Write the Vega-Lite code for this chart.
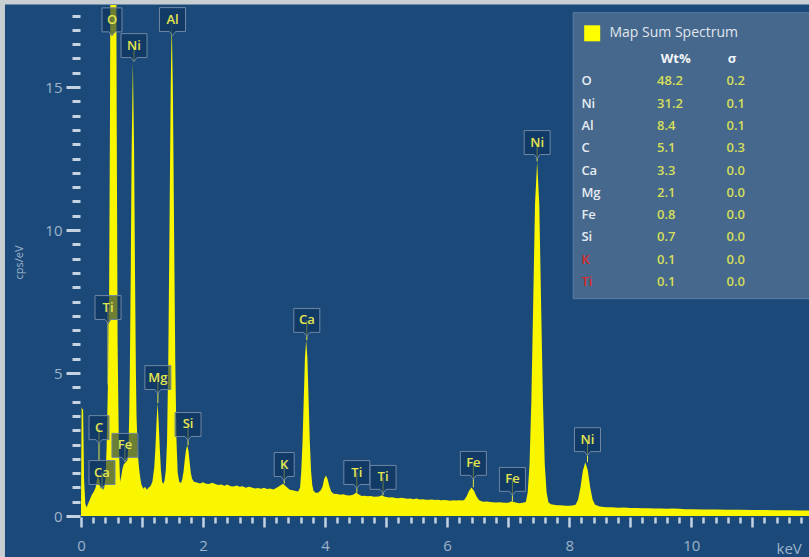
{
  "$schema": "https://vega.github.io/schema/vega-lite/v6.json",
  "width": 728,
  "height": 511,
  "autosize": {"type": "none"},
  "padding": {"left": 81, "top": 5, "right": 0, "bottom": 41},
  "background": "#c9ced3",
  "config": {"view": {"stroke": null}, "font": "Open Sans"},
  "datasets": {
    "spectrum": [
      {"e":0.00,"c":0.15},{"e":0.01,"c":3.8},{"e":0.035,"c":3.7},{"e":0.05,"c":1.3},{"e":0.07,"c":0.45},{"e":0.09,"c":0.3},{"e":0.12,"c":0.45},{"e":0.15,"c":0.6},{"e":0.18,"c":0.75},{"e":0.21,"c":0.85},{"e":0.24,"c":1.0},{"e":0.26,"c":1.25},{"e":0.28,"c":1.4},{"e":0.30,"c":1.25},{"e":0.32,"c":0.95},{"e":0.34,"c":1.1},{"e":0.36,"c":0.9},{"e":0.38,"c":1.0},{"e":0.40,"c":1.3},{"e":0.42,"c":2.4},{"e":0.44,"c":4.5},{"e":0.46,"c":7.5},{"e":0.475,"c":14},{"e":0.485,"c":22},{"e":0.50,"c":40},{"e":0.53,"c":60},{"e":0.56,"c":40},{"e":0.575,"c":22},{"e":0.585,"c":14},{"e":0.60,"c":6},{"e":0.62,"c":2.5},{"e":0.64,"c":1.2},{"e":0.66,"c":1.4},{"e":0.68,"c":1.65},{"e":0.70,"c":1.8},{"e":0.72,"c":1.85},{"e":0.74,"c":1.9},{"e":0.76,"c":1.95},{"e":0.78,"c":2.6},{"e":0.79,"c":3.5},{"e":0.80,"c":5.0},{"e":0.815,"c":8.5},{"e":0.83,"c":12.8},{"e":0.85,"c":15.9},{"e":0.87,"c":12.8},{"e":0.885,"c":8.5},{"e":0.90,"c":5.0},{"e":0.91,"c":3.5},{"e":0.93,"c":2.2},{"e":0.95,"c":1.7},{"e":0.97,"c":1.35},{"e":0.99,"c":1.1},{"e":1.02,"c":0.95},{"e":1.05,"c":1.02},{"e":1.08,"c":0.92},{"e":1.11,"c":1.0},{"e":1.14,"c":1.05},{"e":1.17,"c":1.2},{"e":1.20,"c":1.7},{"e":1.22,"c":2.4},{"e":1.24,"c":3.4},{"e":1.254,"c":3.95},{"e":1.27,"c":3.4},{"e":1.29,"c":2.4},{"e":1.31,"c":1.6},{"e":1.33,"c":1.2},{"e":1.35,"c":1.12},{"e":1.37,"c":1.25},{"e":1.39,"c":1.6},{"e":1.41,"c":2.6},{"e":1.43,"c":5.4},{"e":1.45,"c":10.1},{"e":1.47,"c":15.0},{"e":1.487,"c":17.3},{"e":1.505,"c":15.0},{"e":1.525,"c":10.1},{"e":1.545,"c":5.4},{"e":1.565,"c":2.6},{"e":1.585,"c":1.5},{"e":1.61,"c":1.2},{"e":1.64,"c":1.15},{"e":1.66,"c":1.3},{"e":1.68,"c":1.55},{"e":1.70,"c":1.95},{"e":1.72,"c":2.3},{"e":1.74,"c":2.47},{"e":1.76,"c":2.3},{"e":1.78,"c":1.9},{"e":1.80,"c":1.5},{"e":1.82,"c":1.3},{"e":1.85,"c":1.2},{"e":1.90,"c":1.17},{"e":1.95,"c":1.14},{"e":2.0,"c":1.18},{"e":2.05,"c":1.13},{"e":2.1,"c":1.12},{"e":2.15,"c":1.16},{"e":2.2,"c":1.12},{"e":2.25,"c":1.08},{"e":2.3,"c":1.1},{"e":2.35,"c":1.06},{"e":2.4,"c":1.1},{"e":2.45,"c":1.04},{"e":2.5,"c":1.03},{"e":2.55,"c":1.07},{"e":2.6,"c":1.02},{"e":2.65,"c":1.04},{"e":2.7,"c":0.99},{"e":2.75,"c":1.02},{"e":2.8,"c":1.0},{"e":2.85,"c":0.96},{"e":2.9,"c":0.98},{"e":2.95,"c":0.95},{"e":3.0,"c":0.99},{"e":3.05,"c":0.94},{"e":3.1,"c":0.96},{"e":3.15,"c":0.93},{"e":3.2,"c":0.98},{"e":3.26,"c":1.06},{"e":3.31,"c":1.13},{"e":3.36,"c":1.03},{"e":3.42,"c":0.92},{"e":3.47,"c":0.9},{"e":3.52,"c":0.87},{"e":3.56,"c":0.86},{"e":3.59,"c":1.0},{"e":3.61,"c":1.57},{"e":3.63,"c":2.57},{"e":3.65,"c":4.06},{"e":3.67,"c":5.53},{"e":3.69,"c":6.15},{"e":3.71,"c":5.53},{"e":3.73,"c":4.06},{"e":3.75,"c":2.57},{"e":3.77,"c":1.57},{"e":3.79,"c":1.08},{"e":3.81,"c":0.88},{"e":3.85,"c":0.8},{"e":3.89,"c":0.82},{"e":3.93,"c":0.9},{"e":3.96,"c":1.04},{"e":3.985,"c":1.29},{"e":4.013,"c":1.42},{"e":4.04,"c":1.29},{"e":4.07,"c":1.04},{"e":4.10,"c":0.86},{"e":4.14,"c":0.78},{"e":4.2,"c":0.77},{"e":4.25,"c":0.74},{"e":4.3,"c":0.76},{"e":4.35,"c":0.73},{"e":4.4,"c":0.72},{"e":4.46,"c":0.74},{"e":4.51,"c":0.82},{"e":4.56,"c":0.74},{"e":4.6,"c":0.7},{"e":4.65,"c":0.71},{"e":4.7,"c":0.69},{"e":4.75,"c":0.7},{"e":4.8,"c":0.67},{"e":4.88,"c":0.68},{"e":4.93,"c":0.73},{"e":4.98,"c":0.67},{"e":5.05,"c":0.65},{"e":5.1,"c":0.66},{"e":5.15,"c":0.63},{"e":5.2,"c":0.62},{"e":5.25,"c":0.64},{"e":5.3,"c":0.62},{"e":5.35,"c":0.6},{"e":5.4,"c":0.61},{"e":5.45,"c":0.59},{"e":5.5,"c":0.61},{"e":5.55,"c":0.58},{"e":5.6,"c":0.59},{"e":5.65,"c":0.57},{"e":5.7,"c":0.57},{"e":5.75,"c":0.58},{"e":5.8,"c":0.56},{"e":5.85,"c":0.57},{"e":5.9,"c":0.55},{"e":5.95,"c":0.56},{"e":6.0,"c":0.55},{"e":6.05,"c":0.53},{"e":6.1,"c":0.55},{"e":6.15,"c":0.54},{"e":6.2,"c":0.55},{"e":6.25,"c":0.54},{"e":6.28,"c":0.56},{"e":6.32,"c":0.69},{"e":6.36,"c":0.88},{"e":6.40,"c":1.0},{"e":6.44,"c":0.88},{"e":6.48,"c":0.69},{"e":6.52,"c":0.56},{"e":6.56,"c":0.52},{"e":6.6,"c":0.5},{"e":6.65,"c":0.51},{"e":6.7,"c":0.49},{"e":6.75,"c":0.48},{"e":6.8,"c":0.47},{"e":6.85,"c":0.48},{"e":6.9,"c":0.47},{"e":6.95,"c":0.46},{"e":7.0,"c":0.46},{"e":7.06,"c":0.52},{"e":7.12,"c":0.47},{"e":7.18,"c":0.45},{"e":7.24,"c":0.46},{"e":7.29,"c":0.49},{"e":7.32,"c":0.82},{"e":7.35,"c":1.8},{"e":7.38,"c":4.0},{"e":7.41,"c":7.4},{"e":7.44,"c":10.9},{"e":7.475,"c":12.4},{"e":7.51,"c":10.9},{"e":7.54,"c":7.4},{"e":7.57,"c":4.0},{"e":7.60,"c":1.8},{"e":7.63,"c":0.82},{"e":7.66,"c":0.48},{"e":7.7,"c":0.41},{"e":7.75,"c":0.39},{"e":7.8,"c":0.38},{"e":7.85,"c":0.38},{"e":7.9,"c":0.37},{"e":7.95,"c":0.36},{"e":8.0,"c":0.36},{"e":8.05,"c":0.37},{"e":8.105,"c":0.39},{"e":8.145,"c":0.57},{"e":8.185,"c":1.0},{"e":8.225,"c":1.59},{"e":8.265,"c":1.88},{"e":8.305,"c":1.59},{"e":8.345,"c":1.0},{"e":8.385,"c":0.57},{"e":8.425,"c":0.39},{"e":8.5,"c":0.33},{"e":8.6,"c":0.31},{"e":8.7,"c":0.31},{"e":8.8,"c":0.29},{"e":8.9,"c":0.3},{"e":9.0,"c":0.28},{"e":9.1,"c":0.28},{"e":9.2,"c":0.27},{"e":9.3,"c":0.27},{"e":9.4,"c":0.26},{"e":9.5,"c":0.26},{"e":9.6,"c":0.25},{"e":9.7,"c":0.26},{"e":9.8,"c":0.25},{"e":9.9,"c":0.24},{"e":10.0,"c":0.24},{"e":10.2,"c":0.23},{"e":10.4,"c":0.23},{"e":10.6,"c":0.22},{"e":10.8,"c":0.22},{"e":11.0,"c":0.21},{"e":11.2,"c":0.21},{"e":11.4,"c":0.2},{"e":11.6,"c":0.2},{"e":11.8,"c":0.19},{"e":12.0,"c":0.19}
    ],
    "peaks": [
      {"el":"O","e":0.508,"ly":17.35,"tip":17.35},
      {"el":"Ni","e":0.869,"ly":16.45,"tip":15.9},
      {"el":"Al","e":1.5,"ly":17.36,"tip":17.3},
      {"el":"Ti","e":0.443,"ly":7.29,"tip":4.6},
      {"el":"Mg","e":1.26,"ly":4.84,"tip":3.95},
      {"el":"Si","e":1.754,"ly":3.2,"tip":2.47},
      {"el":"C","e":0.295,"ly":3.09,"tip":1.94},
      {"el":"Ca","e":0.344,"ly":1.52,"tip":1.05},
      {"el":"Fe","e":0.72,"ly":2.47,"tip":1.9},
      {"el":"K","e":3.33,"ly":1.8,"tip":1.13},
      {"el":"Ca","e":3.70,"ly":6.84,"tip":6.15},
      {"el":"Ti","e":4.52,"ly":1.52,"tip":0.82},
      {"el":"Ti","e":4.95,"ly":1.35,"tip":0.73},
      {"el":"Fe","e":6.43,"ly":1.84,"tip":1.0},
      {"el":"Fe","e":7.07,"ly":1.28,"tip":0.52},
      {"el":"Ni","e":7.475,"ly":13.06,"tip":12.4},
      {"el":"Ni","e":8.30,"ly":2.67,"tip":1.88}
    ],
    "table": [
      {"el":"O","wt":"48.2","sigma":"0.2"},
      {"el":"Ni","wt":"31.2","sigma":"0.1"},
      {"el":"Al","wt":"8.4","sigma":"0.1"},
      {"el":"C","wt":"5.1","sigma":"0.3"},
      {"el":"Ca","wt":"3.3","sigma":"0.0"},
      {"el":"Mg","wt":"2.1","sigma":"0.0"},
      {"el":"Fe","wt":"0.8","sigma":"0.0"},
      {"el":"Si","wt":"0.7","sigma":"0.0"},
      {"el":"K","wt":"0.1","sigma":"0.0"},
      {"el":"Ti","wt":"0.1","sigma":"0.0"}
    ]
  },
  "layer": [
    {
      "data": {"name": "spectrum"},
      "layer": [
        {
          "data": {"values": [{}]},
          "mark": {"type": "rect", "fill": "#1b4a7a", "clip": false},
          "encoding": {
            "x": {"datum": -1.246, "type": "quantitative"},
            "x2": {"datum": 13},
            "y": {"datum": 17.885, "type": "quantitative"},
            "y2": {"datum": -2}
          }
        },
        {
          "mark": {"type": "area", "color": "#f9f600", "clip": true, "interpolate": "linear"},
          "encoding": {
            "x": {
              "field": "e", "type": "quantitative",
              "scale": {"domain": [0, 11.93], "nice": false, "zero": false},
              "axis": {
                "zindex": 1,
                "values": [0,0.2,0.4,0.6,0.8,1,1.2,1.4,1.6,1.8,2,2.2,2.4,2.6,2.8,3,3.2,3.4,3.6,3.8,4,4.2,4.4,4.6,4.8,5,5.2,5.4,5.6,5.8,6,6.2,6.4,6.6,6.8,7,7.2,7.4,7.6,7.8,8,8.2,8.4,8.6,8.8,9,9.2,9.4,9.6,9.8,10,10.2,10.4,10.6,10.8,11,11.2,11.4,11.6,11.8],
                "tickCount": 1000,
                "format": "~g",
                "labelExpr": "datum.value % 2 === 0 ? datum.label : ''",
                "tickSize": {"condition": {"test": "datum.value % 1 === 0", "value": 10}, "value": 6},
                "tickWidth": 2.5,
                "tickColor": "#c5d2e2",
                "domain": false,
                "grid": false,
                "offset": 1,
                "labelColor": "#9fb3cb",
                "labelFontSize": 15,
                "labelPadding": 11,
                "labelFlush": false,
                "labelOverlap": false,
                "title": "keV",
                "titleColor": "#9fb3cb",
                "titleFontSize": 15,
                "titleFontWeight": "normal",
                "titleAnchor": "start",
                "titleAlign": "left",
                "titleBaseline": "middle",
                "titleX": 695,
                "titleY": 31
              }
            },
            "y": {
              "field": "c", "type": "quantitative",
              "scale": {"domain": [0, 17.87], "nice": false, "zero": true},
              "axis": {
                "zindex": 1,
                "values": [0,0.5,1,1.5,2,2.5,3,3.5,4,4.5,5,5.5,6,6.5,7,7.5,8,8.5,9,9.5,10,10.5,11,11.5,12,12.5,13,13.5,14,14.5,15,15.5,16,16.5,17,17.5],
                "tickCount": 1000,
                "format": "~g",
                "labelExpr": "datum.value % 5 === 0 ? datum.label : ''",
                "tickSize": {"condition": {"test": "datum.value % 5 === 0", "value": 14}, "value": 8},
                "tickWidth": 3,
                "tickColor": "#c5d2e2",
                "domain": false,
                "grid": false,
                "offset": 1,
                "labelColor": "#9fb3cb",
                "labelFontSize": 15,
                "labelPadding": 4,
                "labelOverlap": false,
                "labelFlush": false,
                "title": "cps/eV",
                "titleColor": "#9fb3cb",
                "titleFontSize": 11,
                "titleFontWeight": "normal",
                "titleAngle": -90,
                "titleAlign": "center",
                "titleBaseline": "middle",
                "titleX": -61,
                "titleY": 257
              }
            }
          }
        },
        {
          "data": {"name": "peaks"},
          "mark": {"type": "rule", "color": "#e8e640", "strokeWidth": 1},
          "encoding": {
            "x": {"field": "e", "type": "quantitative"},
            "y": {"field": "ly", "type": "quantitative"},
            "y2": {"field": "tip"}
          }
        },
        {
          "data": {"name": "peaks"},
          "transform": [{"filter": "length(datum.el) == 1"}],
          "mark": {"type": "point", "shape": "M-1,-1.2H1V1.2H0.3L0,1.6L-0.3,1.2H-1Z", "size": 400, "filled": true, "fill": "#0e3158", "fillOpacity": 0.6, "stroke": "#6f87a3", "strokeWidth": 1, "opacity": 1},
          "encoding": {
            "x": {"field": "e", "type": "quantitative"},
            "y": {"field": "ly", "type": "quantitative"}
          }
        },
        {
          "data": {"name": "peaks"},
          "transform": [{"filter": "length(datum.el) == 2"}],
          "mark": {"type": "point", "shape": "M-1,-0.92H1V0.92H0.23L0,1.23L-0.23,0.92H-1Z", "size": 676, "filled": true, "fill": "#0e3158", "fillOpacity": 0.6, "stroke": "#6f87a3", "strokeWidth": 1, "opacity": 1},
          "encoding": {
            "x": {"field": "e", "type": "quantitative"},
            "y": {"field": "ly", "type": "quantitative"}
          }
        },
        {
          "data": {"name": "peaks"},
          "mark": {"type": "text", "color": "#e4e650", "font": "Open Sans", "fontSize": 13, "fontWeight": 600, "align": "center", "baseline": "middle"},
          "encoding": {
            "x": {"field": "e", "type": "quantitative"},
            "y": {"field": "ly", "type": "quantitative"},
            "text": {"field": "el"}
          }
        },
        {
          "data": {"values": [{}]},
          "mark": {"type": "rect", "fill": "#46688c", "stroke": "#5c7ea2", "strokeWidth": 1, "clip": false},
          "encoding": {
            "x": {"datum": 8.066, "type": "quantitative"},
            "x2": {"datum": 12.6},
            "y": {"datum": 17.6, "type": "quantitative"},
            "y2": {"datum": 7.6}
          }
        },
        {
          "data": {"values": [{}]},
          "mark": {"type": "point", "shape": "square", "size": 256, "filled": true, "fill": "#ffff00", "opacity": 1, "strokeWidth": 0},
          "encoding": {
            "x": {"datum": 8.377, "type": "quantitative"},
            "y": {"datum": 16.88, "type": "quantitative"}
          }
        },
        {
          "data": {"values": [{}]},
          "mark": {"type": "text", "text": "Map Sum Spectrum", "color": "#e0e6ee", "font": "Open Sans", "fontSize": 14, "align": "left", "baseline": "middle"},
          "encoding": {
            "x": {"datum": 8.66, "type": "quantitative"},
            "y": {"datum": 16.9, "type": "quantitative"}
          }
        }
      ]
    },
    {
      "data": {"name": "table"},
      "layer": [
        {
          "mark": {"type": "text", "font": "Open Sans", "fontSize": 13, "fontWeight": 600, "align": "left", "baseline": "middle"},
          "encoding": {
            "x": {"datum": 8.2, "type": "quantitative"},
            "y": {"field": "el", "type": "ordinal", "scale": {"type": "point", "domain": ["hdr","O","Ni","Al","C","Ca","Mg","Fe","Si","K","Ti"], "range": [54, 277], "padding": 0}, "axis": null},
            "text": {"field": "el"},
            "color": {"condition": {"test": "datum.el === 'K' || datum.el === 'Ti'", "value": "#d42a2a"}, "value": "#e6ecf3"}
          }
        },
        {
          "mark": {"type": "text", "font": "Open Sans", "fontSize": 13, "fontWeight": 600, "align": "left", "baseline": "middle", "color": "#d5df5a"},
          "encoding": {
            "x": {"datum": 9.44, "type": "quantitative"},
            "y": {"field": "el", "type": "ordinal"},
            "text": {"field": "wt"}
          }
        },
        {
          "mark": {"type": "text", "font": "Open Sans", "fontSize": 13, "fontWeight": 600, "align": "left", "baseline": "middle", "color": "#d5df5a"},
          "encoding": {
            "x": {"datum": 10.58, "type": "quantitative"},
            "y": {"field": "el", "type": "ordinal"},
            "text": {"field": "sigma"}
          }
        },
        {
          "data": {"values": [{}]},
          "mark": {"type": "text", "text": "Wt%", "font": "Open Sans", "fontSize": 13, "fontWeight": "bold", "align": "left", "baseline": "middle", "color": "#f2f5f8"},
          "encoding": {
            "x": {"datum": 9.5, "type": "quantitative"},
            "y": {"datum": "hdr", "type": "ordinal"}
          }
        },
        {
          "data": {"values": [{}]},
          "mark": {"type": "text", "text": "σ", "font": "Open Sans", "fontSize": 13, "fontWeight": "bold", "align": "left", "baseline": "middle", "color": "#f2f5f8"},
          "encoding": {
            "x": {"datum": 10.6, "type": "quantitative"},
            "y": {"datum": "hdr", "type": "ordinal"}
          }
        }
      ]
    }
  ],
  "resolve": {"scale": {"y": "independent"}, "axis": {"y": "independent"}}
}
